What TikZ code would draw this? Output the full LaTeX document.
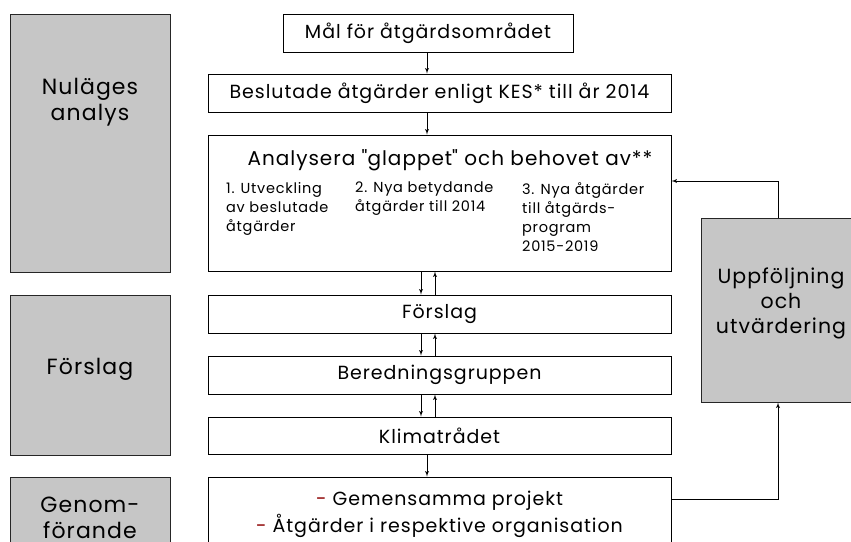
\documentclass[tikz,border=0pt]{standalone}
\usepackage{fontspec}
\setmainfont{Poppins}[LetterSpace=5]
\usetikzlibrary{arrows}
\usetikzlibrary{positioning}
\tikzset{arr/.style = {-latex', line width = 0.9}}
\tikzset{flowbox/.style = {draw, line width = 0.9, rectangle, inner sep = 0,
                           minimum width = 463, minimum height = 38,
                           font = \fontsize{19}{22}\selectfont}}
\tikzset{phase/.style = {draw = gray!30!black, line width = 1, fill = gray!45,
                         rectangle, inner sep = 0, minimum width = 160}}
\tikzset{phasetext/.style = {align = center, inner sep = 0,
                             font = \fontsize{22}{26}\selectfont}}
\tikzset{subtext/.style = {align = left, inner sep = 0, anchor = north west,
                           font = \fontsize{14.5}{19}\selectfont}}

\begin{document}
\begin{tikzpicture}[x = 1pt, y = -1pt]
      \useasboundingbox (0, 0) rectangle (851, 541);
      \clip (0, 0) rectangle (851, 541);

      % phases on the left
      \node [phase, minimum height = 258] (nul) at (90, 143) {};
      \node [phasetext] at (90, 102) {Nuläges\\analys};
      \node [phase, minimum height = 160] (forsl) at (90, 375) {};
      \node [phasetext] at (90, 369) {Förslag};
      \node [phase, minimum height = 100] (genom) at (90, 527) {};
      \node [phasetext] at (90, 518) {Genom-\\förande};

      % main flow
      \node [flowbox, minimum width = 290] (mal) at (428, 33) {Mål för åtgärdsområdet};
      \node [flowbox] (beslut) at (439.5, 93) {Beslutade åtgärder enligt KES* till år 2014};
      \node [flowbox, minimum height = 136] (analys) at (439.5, 203) {};
      \node [font = \fontsize{20}{22}\selectfont, inner sep = 0] (glapp) at (450, 160)
            {Analysera \textquotedbl glappet\textquotedbl{} och behovet av**};
      \node [subtext] (ut) at (226, 182) {1. Utveckling\\av beslutade\\åtgärder};
      \node [subtext] (nya) at (355, 182) {2. Nya betydande\\åtgärder till 2014};
      \node [subtext] (prog) at (522, 182) {3. Nya åtgärder\\till åtgärds-\\program\\2015-2019};
      \node [flowbox] (forslag) at (439.5, 314) {Förslag};
      \node [flowbox] (bered) at (439.5, 375) {Beredningsgruppen};
      \node [flowbox, minimum height = 37] (klimat) at (439.5, 435.5) {Klimatrådet};
      \node [flowbox, minimum height = 100] (genomf) at (439.5, 527) {};
      \node [align = center, inner sep = 0, font = \fontsize{19}{27}\selectfont] (proj) at (439.5, 514)
            {{\color{red!55!black}-} Gemensamma projekt\\{\color{red!55!black}-} Åtgärder i respektive organisation};

      % follow-up
      \node [phase, minimum width = 170, minimum height = 184] (uppf) at (786, 310) {};
      \node [phasetext, font = \fontsize{20.5}{25}\selectfont] at (781, 303) {Uppföljning\\och\\utvärdering};

      % connectors
      \coordinate (dn) at (421, 0);
      \coordinate (up) at (435, 0);
      \coordinate (mid) at (427, 0);
      \coordinate (fb) at (778, 0);
      \draw [arr] (mid |- mal.south) -- (mid |- beslut.north);
      \draw [arr] (mid |- beslut.south) -- (mid |- analys.north);
      \draw [arr] (dn |- analys.south) -- (dn |- forslag.north);
      \draw [arr] (up |- forslag.north) -- (up |- analys.south);
      \draw [arr] (dn |- forslag.south) -- (dn |- bered.north);
      \draw [arr] (up |- bered.north) -- (up |- forslag.south);
      \draw [arr] (dn |- bered.south) -- (dn |- klimat.north);
      \draw [arr] (up |- klimat.north) -- (up |- bered.south);
      \draw [arr] (mid |- klimat.south) -- (mid |- genomf.north);
      \draw [arr] (genomf.east |- 0, 499) -| (fb |- uppf.south);
      \draw [arr] (fb |- uppf.north) |- (analys.east |- 0, 181);
    \end{tikzpicture}
\end{document}
